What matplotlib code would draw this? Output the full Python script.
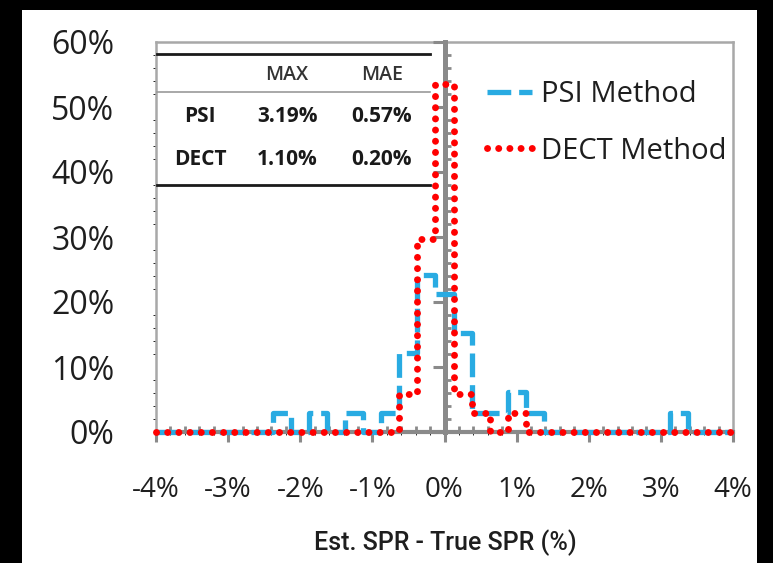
import numpy as np
import matplotlib
matplotlib.use("Agg")
import matplotlib.pyplot as plt
from matplotlib.lines import Line2D
from matplotlib.patches import Rectangle
from matplotlib.ticker import MultipleLocator, FixedLocator, FuncFormatter

plt.rcParams["font.family"] = ["Open Sans", "DejaVu Sans"]

# Histogram bins (centres, in % SPR error), 0.25 % wide
bin_centers = [-4.0, -3.75, -3.5, -3.25, -3.0, -2.75, -2.5, -2.25, -2.0, -1.75,
               -1.5, -1.25, -1.0, -0.75, -0.5, -0.25, 0.0, 0.25, 0.5, 0.75,
               1.0, 1.25, 1.5, 1.75, 2.0, 2.25, 2.5, 2.75, 3.0, 3.25,
               3.5, 3.75, 4.0]
bin_width = 0.25

# Relative frequency (%) per bin
psi_freq = [0, 0, 0, 0, 0, 0, 0, 3.0, 0, 3.0,
            0, 3.0, 0, 3.0, 12.1, 24.2, 21.2, 15.2, 3.0, 3.0,
            6.1, 3.0, 0, 0, 0, 0, 0, 0, 0, 3.0,
            0, 0, 0]
dect_freq = [0, 0, 0, 0, 0, 0, 0, 0, 0, 0,
             0, 0, 0, 0, 5.8, 29.7, 53.5, 5.8, 3.0, 0,
             3.0, 0, 0, 0, 0, 0, 0, 0, 0, 0,
             0, 0, 0]

series_names = ["PSI Method", "DECT Method"]

# Summary table
table_cols = ["MAX", "MAE"]
table_rows = ["PSI", "DECT"]
table_vals = [["3.19%", "0.57%"], ["1.10%", "0.20%"]]

x_ticks = [-4, -3, -2, -1, 0, 1, 2, 3, 4]
y_ticks = [0, 10, 20, 30, 40, 50, 60]
x_range = (-4, 4)
y_range = (0, 60)
x_label = "Est. SPR - True SPR (%)"

BLUE = "#29ABE2"
RED = "#FF0000"
AXIS_GRAY = "#8A8A8A"
FRAME_GRAY = "#A8A8A8"
TEXT = "#1E1E1E"

W, H = 773, 563
fig = plt.figure(figsize=(W / 100, H / 100), dpi=100, facecolor="black")


def fx(x):
    return x / W


def fy(y):
    return 1 - y / H


# white canvas inside the dark surround
fig.add_artist(Rectangle((fx(22), 0), fx(757) - fx(22), fy(10),
                         transform=fig.transFigure, facecolor="white",
                         edgecolor="none", zorder=-5))

pos = [fx(156), fy(432), (733 - 156) / W, (432 - 42) / H]
ax = fig.add_axes(pos)
ax.set_facecolor("none")
ax.set_xlim(*x_range)
ax.set_ylim(*y_range)

# outer plot-area frame and tick labels
for s in ax.spines.values():
    s.set_color(FRAME_GRAY)
    s.set_linewidth(1.8)
ax.xaxis.set_major_locator(FixedLocator(x_ticks))
ax.yaxis.set_major_locator(FixedLocator(y_ticks))
ax.xaxis.set_major_formatter(FuncFormatter(lambda v, p: f"{int(round(v))}%"))
ax.yaxis.set_major_formatter(FuncFormatter(lambda v, p: f"{int(round(v))}%"))
ax.tick_params(axis="y", length=0, pad=30, labelsize=23, labelcolor=TEXT)
ax.tick_params(axis="x", length=0, pad=32, labelsize=20, labelcolor=TEXT)

# axes crossing at zero
ax2 = fig.add_axes(pos, sharex=ax, sharey=ax)
ax2.set_facecolor("none")
ax2.spines["top"].set_visible(False)
ax2.spines["right"].set_visible(False)
ax2.spines["left"].set_position(("data", 0))
ax2.spines["bottom"].set_position(("data", 0))
ax2.spines["left"].set_color(AXIS_GRAY)
ax2.spines["left"].set_linewidth(3.6)
ax2.spines["bottom"].set_color(AXIS_GRAY)
ax2.spines["bottom"].set_linewidth(3.0)
ax2.xaxis.set_major_locator(MultipleLocator(1))
ax2.xaxis.set_minor_locator(MultipleLocator(0.2))
ax2.yaxis.set_major_locator(MultipleLocator(10))
ax2.yaxis.set_minor_locator(MultipleLocator(2))
ax2.tick_params(axis="x", which="major", direction="out", length=7.5,
                width=2.2, color=AXIS_GRAY, labelbottom=False)
ax2.tick_params(axis="x", which="minor", direction="in", length=4,
                width=2.0, color=AXIS_GRAY)
ax2.tick_params(axis="y", which="major", direction="out", length=8.5,
                width=2.2, color=AXIS_GRAY, labelleft=False)
ax2.tick_params(axis="y", which="minor", direction="in", length=4.5,
                width=2.0, color=AXIS_GRAY)


def steps(centers, vals, width, lo, hi):
    c = np.asarray(centers, dtype=float)
    edges = np.concatenate([c - width / 2, [c[-1] + width / 2]])
    xs = np.clip(np.repeat(edges, 2)[1:-1], lo, hi)
    ys = np.repeat(np.asarray(vals, dtype=float), 2)
    return xs, ys


xp, yp = steps(bin_centers, psi_freq, bin_width, *x_range)
xd, yd = steps(bin_centers, dect_freq, bin_width, *x_range)

l_psi, = ax2.plot(xp, yp, color=BLUE, lw=3.8, linestyle=(0, (4.5, 1.5)),
                  dash_capstyle="butt", label=series_names[0], zorder=3,
                  clip_on=False)
l_dect, = ax2.plot(xd, yd, color=RED, lw=5, linestyle=(0, (0.01, 1.6)),
                   dash_capstyle="round", label=series_names[1], zorder=3.2,
                   clip_on=False)

# legend
ax2.legend(handles=[l_psi, l_dect], loc="upper left",
           bbox_to_anchor=(fx(487), fy(80)), bbox_transform=fig.transFigure,
           frameon=False, fontsize=21, handlelength=1.55, handletextpad=0.3,
           labelspacing=0.95, borderpad=0, borderaxespad=0,
           labelcolor=TEXT)

# axis title
fig.text(fx(445), fy(543), x_label, ha="center", va="center", fontsize=18,
         color=TEXT, family=["Roboto", "DejaVu Sans"], fontweight="medium")

# summary table
tl_x0, tl_x1 = fx(157), fx(430)
fig.add_artist(Line2D([tl_x0, tl_x1], [fy(54), fy(54)], transform=fig.transFigure,
                      color="#1A1A1A", lw=2.0))
fig.add_artist(Line2D([tl_x0, tl_x1], [fy(92), fy(92)], transform=fig.transFigure,
                      color="#9A9A9A", lw=1.2))
fig.add_artist(Line2D([tl_x0, tl_x1], [fy(185), fy(185)], transform=fig.transFigure,
                      color="#1A1A1A", lw=2.0))
col_x = [287, 382]
row_y = [122, 165]
for cx, name in zip(col_x, table_cols):
    fig.text(fx(cx), fy(80), name, ha="center", va="baseline", fontsize=14,
             color="#333333", fontweight="semibold")
for ry, rname, vals in zip(row_y, table_rows, table_vals):
    fig.text(fx(200), fy(ry), rname, ha="center", va="baseline", fontsize=15,
             color="#1A1A1A", fontweight="bold")
    for cx, v in zip(col_x, vals):
        fig.text(fx(cx), fy(ry), v, ha="center", va="baseline", fontsize=15,
                 color="#1A1A1A", fontweight="bold")

fig.savefig("out.png", dpi=100, facecolor=fig.get_facecolor())
